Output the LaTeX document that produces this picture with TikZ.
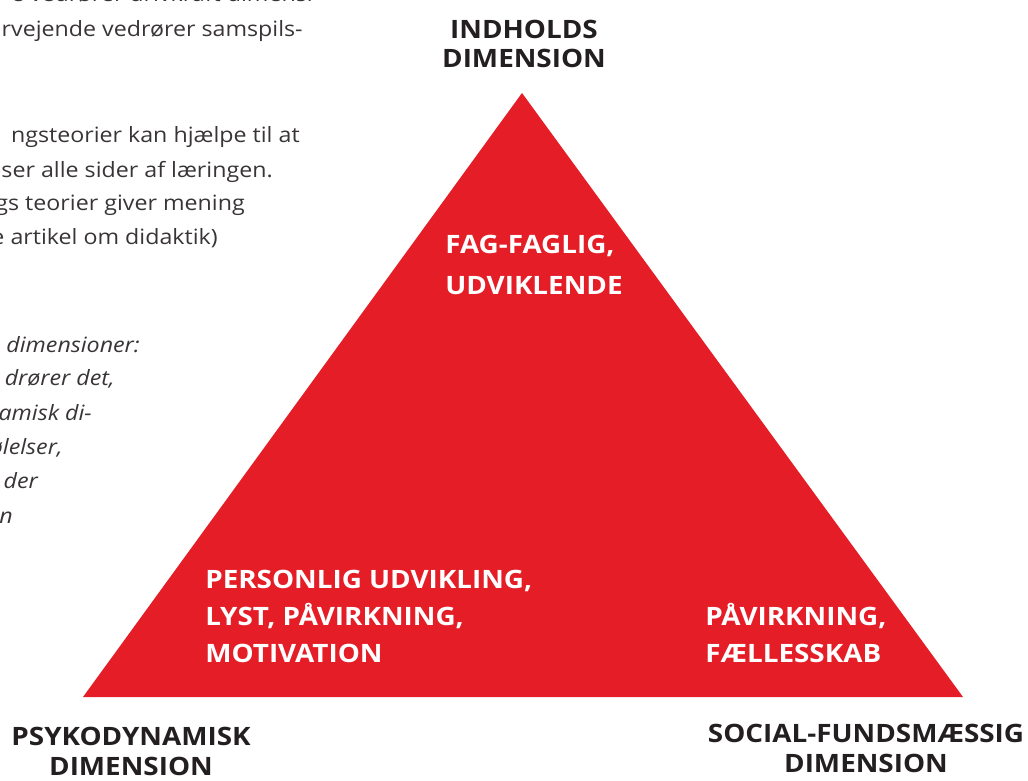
\documentclass[tikz,border=0pt]{standalone}
\usepackage{fontspec}
\setmainfont{Open Sans}
\newfontfamily\widefont{Open Sans}[FakeStretch=1.1]
\usetikzlibrary{positioning}

\definecolor{dimred}{HTML}{E41D26}
\definecolor{ink}{HTML}{231F20}

\tikzset{
    dimlabel/.style={font=\widefont\fontsize{18}{21.3}\selectfont\bfseries, text=ink, align=center, inner sep=0pt, anchor=base},
    cornerlabel/.style={font=\widefont\fontsize{18}{26.2}\selectfont\bfseries, text=white, align=left, inner sep=0pt, anchor=base west},
    bodyline/.style={font=\widefont\fontsize{15}{24}\selectfont, text=ink!90, inner sep=0pt, anchor=base east},
    slantline/.style={bodyline, font=\widefont\fontsize{15}{24}\selectfont\itshape}
}

\begin{document}
\begin{tikzpicture}[x=0.025cm, y=-0.025cm]
            \useasboundingbox (0,0) rectangle (1028,781);
            \clip (0,0) rectangle (1028,781);

            % triangle
            \coordinate (top) at (522,93);
            \coordinate (left) at (83,697);
            \coordinate (right) at (963,697);
            \fill[dimred] (top) -- (left) -- (right) -- cycle;

            % dimension names (base = last line)
            \node[dimlabel] (indhold) at (524,68) {INDHOLDS\\DIMENSION};
            \node[dimlabel] (psyko) at (131,775) {PSYKODYNAMISK\\DIMENSION};
            \node[dimlabel] (social) at (866,772) {SOCIAL-FUNDSMÆSSIG\\DIMENSION};

            % inside the triangle
            \node[cornerlabel, font=\widefont\fontsize{18}{29}\selectfont\bfseries] (fag) at (445,294) {FAG-FAGLIG,\\UDVIKLENDE};
            \node[cornerlabel] (person) at (205,662) {PERSONLIG UDVIKLING,\\LYST, PÅVIRKNING,\\MOTIVATION};
            \node[cornerlabel] (faelles) at (705,662) {PÅVIRKNING,\\FÆLLESSKAB};

            % text column on the left
            \node[bodyline] (body1) at (313,2) {e vedrører drivkraft dimensi};
            \node[bodyline] (body2) at (303,37) {rvejende vedrører samspils-};
            \node[bodyline] (body3) at (300,143) {ngsteorier kan hjælpe til at};
            \node[bodyline] (body4) at (273,178) {eser alle sider af læringen.};
            \node[bodyline] (body5) at (245,211) {gs teorier giver mening};
            \node[bodyline] (body6) at (218,245) {e artikel om didaktik)};

            \node[slantline] (slant1) at (140,352) {dimensioner:};
            \node[slantline] (slant2) at (115,386) {drører det,};
            \node[slantline] (slant3) at (92,420) {amisk di-};
            \node[slantline] (slant4) at (63,454) {ølelser,};
            \node[slantline] (slant5) at (38,488) {der};
            \node[slantline] (slant6) at (13,523) {n};
\end{tikzpicture}
\end{document}
